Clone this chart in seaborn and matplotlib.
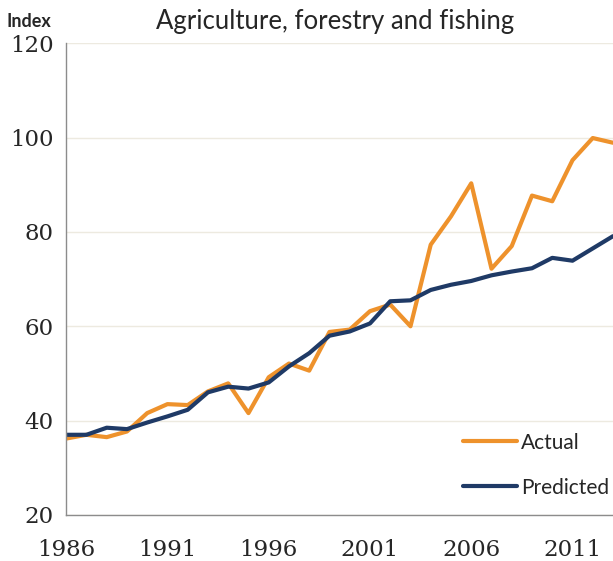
import numpy as np
import pandas as pd
import seaborn as sns
import matplotlib.pyplot as plt

# ---------- data ----------
years = list(range(1986, 2014))
actual = [36.2, 37.0, 36.5, 37.7, 41.6, 43.5, 43.3, 46.2, 47.9, 41.6,
          49.2, 52.1, 50.6, 58.8, 59.3, 63.2, 64.6, 60.0, 77.3, 83.3,
          90.3, 72.2, 77.0, 87.7, 86.5, 95.2, 99.9, 98.9]
predicted = [37.0, 37.0, 38.5, 38.2, 39.6, 40.9, 42.3, 46.0, 47.2, 46.8,
             48.1, 51.5, 54.3, 58.0, 58.9, 60.6, 65.3, 65.5, 67.7, 68.8,
             69.6, 70.8, 71.6, 72.3, 74.5, 73.9, 76.5, 79.1]
series_names = ["Actual", "Predicted"]
series_colors = ["#EE922C", "#1F3A66"]
x_ticks = [1986, 1991, 1996, 2001, 2006, 2011]
y_ticks = [20, 40, 60, 80, 100, 120]

df = pd.DataFrame({
    "Year": years * 2,
    "Index": actual + predicted,
    "Series": ["Actual"] * len(years) + ["Predicted"] * len(years),
})

# ---------- plot ----------
sns.set_style("white")
fig = plt.figure(figsize=(6.13, 5.61), dpi=100)
ax = fig.add_axes([0.108, 0.082, 0.892, 0.841])

sns.lineplot(data=df, x="Year", y="Index", hue="Series",
             hue_order=series_names, palette=series_colors,
             linewidth=3.0, ax=ax, legend=True)

ax.set_xlim(1986, 2013)
ax.set_ylim(20, 120)
ax.set_xticks(x_ticks)
ax.set_yticks(y_ticks)
ax.set_xlabel("")
ax.set_ylabel("")

ax.grid(axis="y", color="#EDEAE0", linewidth=1.0)
ax.set_axisbelow(True)
for side in ["top", "right"]:
    ax.spines[side].set_visible(False)
for side in ["left", "bottom"]:
    ax.spines[side].set_color("#8C8C8C")
    ax.spines[side].set_linewidth(1.0)

ax.tick_params(axis="both", which="major", length=5, width=1,
               color="#8C8C8C", direction="out", labelsize=16.5)
ax.tick_params(axis="y", pad=4)
ax.tick_params(axis="x", pad=12)
for lbl in ax.get_xticklabels() + ax.get_yticklabels():
    lbl.set_family("DejaVu Serif")

leg = ax.legend(frameon=False, loc="center left",
                bbox_to_anchor=(0.755, 0.171),
                bbox_transform=fig.transFigure,
                borderpad=0, borderaxespad=0, handlelength=2.6,
                handletextpad=0.2, labelspacing=1.2,
                prop={"family": "Lato", "size": 15})
for line in leg.get_lines():
    line.set_linewidth(3.0)

fig.text(0.010, 0.962, "Index", family="Lato", fontsize=13,
         fontweight="bold", ha="left", va="center")
fig.text(0.547, 0.962, "Agriculture, forestry and fishing",
         family="Lato", fontsize=18.5, ha="center", va="center")

fig.savefig("out.png", dpi=100)
